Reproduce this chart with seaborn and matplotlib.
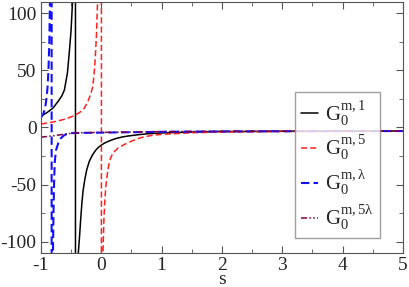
import numpy as np
import pandas as pd
import matplotlib
matplotlib.use('Agg')
import matplotlib.pyplot as plt
from matplotlib.ticker import MultipleLocator
import seaborn as sns

# curve samples (s, G); big values give the jump across each pole
s_m1 = [-1.0, -0.9, -0.8, -0.7, -0.65, -0.61, -0.56, -0.526, -0.5, -0.476, -0.45, -0.427,
        -0.427, -0.41, -0.38, -0.36, -0.34, -0.32, -0.3, -0.27, -0.24, -0.2, -0.15, -0.1,
        -0.05, 0.0, 0.05, 0.1, 0.18, 0.25, 0.35, 0.44, 0.6, 0.77, 1.0, 1.5, 2.0, 3.0, 4.0, 5.0]
g_m1 = [10, 13, 17, 24, 28, 33, 48, 68, 85, 110, 200, 400,
        -400, -200, -110, -96, -80, -66, -55, -45, -37, -30, -24.5, -20.5,
        -17.5, -15.5, -13.8, -12.5, -10.8, -9.6, -8.3, -7.5, -6.4, -5.5, -4.8, -4.0, -3.6,
        -3.3, -3.2, -3.1]

s_m5 = [-1.0, -0.8, -0.6, -0.44, -0.35, -0.28, -0.22, -0.17, -0.14, -0.12, -0.1, -0.08,
        -0.06, -0.03, 0.003, 0.003, 0.02, 0.03, 0.045, 0.06, 0.08, 0.11, 0.14, 0.17, 0.2,
        0.28, 0.38, 0.5, 0.65, 0.83, 1.0, 1.5, 2.0, 3.0, 4.0, 5.0]
g_m5 = [3, 4.8, 7.3, 10.5, 13.5, 17, 23, 30, 36, 46, 60, 80,
        112, 250, 500, -500, -200, -107, -80, -63, -50, -37, -29, -25, -22,
        -18, -15, -12, -9, -7, -6, -4.6, -4.0, -3.5, -3.3, -3.2]

s_ml = [-1.0, -0.96, -0.93, -0.906, -0.89, -0.875, -0.86, -0.85, -0.83, -0.822, -0.822,
        -0.81, -0.8, -0.79, -0.78, -0.77, -0.75, -0.71, -0.67, -0.62, -0.575, -0.5, -0.45,
        0.0, 1.0, 2.0, 5.0]
g_ml = [8.5, 12, 17, 26, 35, 50, 75, 112, 300, 600, -600,
        -300, -110, -70, -45, -30, -20, -13.4, -9.5, -7, -5.8, -5, -4.8,
        -4.5, -3.8, -3.4, -3.1]

s_m5l = [-1.0, -0.72, -0.44, 0.0, 1.0, 2.0, 5.0]
g_m5l = [-8.5, -6.7, -4.7, -4.3, -3.6, -3.3, -3.1]

labels = [r'$\mathrm{G}_0^{\mathrm{m,1}}$', r'$\mathrm{G}_0^{\mathrm{m,5}}$',
          r'$\mathrm{G}_0^{\mathrm{m,\lambda}}$', r'$\mathrm{G}_0^{\mathrm{m,5\lambda}}$']

sns.set_style('ticks')
plt.rcParams['font.family'] = ['Liberation Serif', 'DejaVu Serif']
plt.rcParams['axes.unicode_minus'] = False
plt.rcParams['mathtext.fontset'] = 'custom'
plt.rcParams['mathtext.rm'] = 'Liberation Serif'
plt.rcParams['mathtext.it'] = 'Liberation Serif'
plt.rcParams['mathtext.bf'] = 'Liberation Serif'

fig = plt.figure(figsize=(4.09, 2.87), dpi=100)
ax = fig.add_axes([0.100, 0.1185, 0.885, 0.8745])

sns.lineplot(x=s_m1, y=g_m1, ax=ax, color='black', lw=1.1, estimator=None, sort=False,
             label=labels[0])
sns.lineplot(x=s_m5, y=g_m5, ax=ax, color='#ff2020', lw=1.1, estimator=None, sort=False,
             label=labels[1]).lines[-1].set_dashes([4, 2])
sns.lineplot(x=s_ml, y=g_ml, ax=ax, color='#1010ff', lw=1.5, estimator=None, sort=False,
             label=labels[2]).lines[-1].set_dashes([4, 2])
sns.lineplot(x=s_m5l, y=g_m5l, ax=ax, color='#800048', lw=1.1, estimator=None, sort=False,
             label=labels[3]).lines[-1].set_dashes([4, 1.5, 1, 1.5, 1, 1.5])

ax.set_xlim(-1, 5)
ax.set_ylim(-110, 110)
ax.xaxis.set_major_locator(MultipleLocator(1))
ax.xaxis.set_minor_locator(MultipleLocator(0.5))
ax.yaxis.set_major_locator(MultipleLocator(50))
ax.yaxis.set_minor_locator(MultipleLocator(25))
ax.tick_params(which='both', direction='in', top=True, right=True, color='#555555',
               labelsize=14, pad=3)
ax.tick_params(which='major', length=5)
ax.tick_params(which='minor', length=3)
for sp in ax.spines.values():
    sp.set_color('#555555')
ax.set_xlabel('s', fontsize=14, labelpad=-2)
ax.set_ylabel('')

leg = ax.legend(loc='upper left', bbox_to_anchor=(0.702, 0.641), borderaxespad=0,
                fontsize=15, frameon=True, fancybox=False, edgecolor='#888888',
                handlelength=0.8, handletextpad=0.35, labelspacing=0.25, borderpad=0.3)
leg.get_frame().set_linewidth(1.0)

fig.savefig('out.png', dpi=100)
